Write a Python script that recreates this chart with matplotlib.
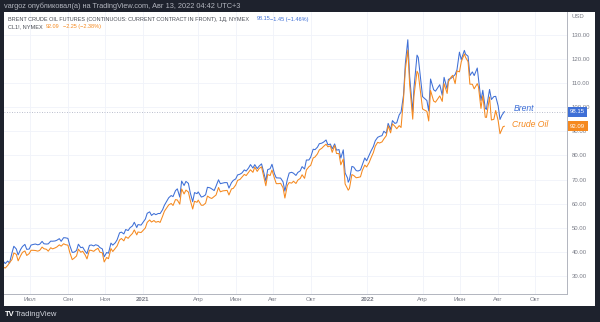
import matplotlib
matplotlib.use("Agg")
import matplotlib.pyplot as plt
import matplotlib.dates as mdates
from matplotlib.patches import Rectangle
import numpy as np

plt.rcParams['font.family'] = ['Liberation Sans', 'DejaVu Sans']

# end-of-week closes (plus a few swing days in 2022)
dates = [
    "2020-05-20", "2020-05-22", "2020-05-29", "2020-06-05", "2020-06-12", "2020-06-19", "2020-06-26",
    "2020-07-03", "2020-07-10", "2020-07-17", "2020-07-24", "2020-07-31",
    "2020-08-07", "2020-08-14", "2020-08-21", "2020-08-28",
    "2020-09-04", "2020-09-11", "2020-09-18", "2020-09-25",
    "2020-10-02", "2020-10-09", "2020-10-16", "2020-10-23", "2020-10-30",
    "2020-11-06", "2020-11-13", "2020-11-20", "2020-11-27",
    "2020-12-04", "2020-12-11", "2020-12-18", "2020-12-24", "2020-12-31",
    "2021-01-08", "2021-01-15", "2021-01-22", "2021-01-29",
    "2021-02-05", "2021-02-12", "2021-02-19", "2021-02-26",
    "2021-03-05", "2021-03-12", "2021-03-19", "2021-03-26",
    "2021-04-01", "2021-04-09", "2021-04-16", "2021-04-23", "2021-04-30",
    "2021-05-07", "2021-05-14", "2021-05-21", "2021-05-28",
    "2021-06-04", "2021-06-11", "2021-06-18", "2021-06-25",
    "2021-07-02", "2021-07-09", "2021-07-16", "2021-07-23", "2021-07-30",
    "2021-08-06", "2021-08-13", "2021-08-20", "2021-08-27",
    "2021-09-03", "2021-09-10", "2021-09-17", "2021-09-24",
    "2021-10-01", "2021-10-08", "2021-10-15", "2021-10-22", "2021-10-29",
    "2021-11-05", "2021-11-12", "2021-11-19", "2021-11-26",
    "2021-12-01", "2021-12-03", "2021-12-10", "2021-12-17", "2021-12-24", "2021-12-31",
    "2022-01-07", "2022-01-14", "2022-01-21", "2022-01-28",
    "2022-02-04", "2022-02-11", "2022-02-18", "2022-02-25",
    "2022-03-04", "2022-03-08", "2022-03-11", "2022-03-16", "2022-03-18", "2022-03-23", "2022-03-25",
    "2022-04-01", "2022-04-08", "2022-04-11", "2022-04-14", "2022-04-22", "2022-04-29",
    "2022-05-06", "2022-05-11", "2022-05-13", "2022-05-20", "2022-05-27", "2022-05-31",
    "2022-06-03", "2022-06-08", "2022-06-10", "2022-06-14", "2022-06-17", "2022-06-24", "2022-06-29",
    "2022-07-01", "2022-07-05", "2022-07-08", "2022-07-14", "2022-07-15", "2022-07-22", "2022-07-29",
    "2022-08-05", "2022-08-10", "2022-08-12",
]

brent = [
    35.75, 35.13, 35.33, 42.30, 38.73, 42.19, 41.02,
    42.80, 43.24, 43.14, 43.34, 43.30,
    44.40, 44.80, 44.35, 45.81,
    42.66, 39.83, 43.15, 41.92,
    39.27, 42.85, 42.93, 41.77, 37.94,
    39.45, 42.78, 44.96, 48.18,
    49.25, 49.97, 52.26, 51.29, 51.80,
    55.99, 55.10, 55.41, 55.88,
    59.34, 62.43, 62.91, 66.13,
    69.36, 69.22, 64.53, 64.57,
    64.86, 62.95, 66.77, 66.11, 67.25,
    68.28, 68.71, 66.44, 69.63,
    71.89, 72.69, 73.51, 76.18,
    76.17, 75.55, 73.59, 74.10, 76.33,
    70.70, 70.59, 65.18, 72.70,
    72.61, 72.92, 75.34, 78.09,
    79.28, 82.39, 84.86, 85.53, 84.38,
    82.74, 82.17, 78.89, 72.72,
    68.87, 69.88, 75.15, 73.52, 76.14, 77.78,
    81.75, 86.06, 87.89, 90.03,
    93.27, 94.44, 93.54, 97.93,
    118.11, 127.98, 112.67, 98.02, 107.93, 121.60, 120.65,
    104.39, 102.78, 98.48, 111.70, 106.65, 109.34,
    112.39, 107.51, 111.55, 112.55, 115.56, 122.84,
    119.72, 123.58, 122.01, 121.17, 113.12, 113.12, 116.26,
    111.63, 102.77, 107.02, 99.10, 101.16, 103.20, 104.50,
    94.92, 97.40, 98.15,
]

wti = [
    33.49, 33.25, 35.49, 39.55, 36.26, 39.75, 38.49,
    40.65, 40.55, 40.59, 41.29, 40.27,
    41.22, 42.01, 42.34, 42.97,
    39.77, 37.33, 41.11, 40.25,
    37.05, 40.60, 40.88, 39.85, 35.79,
    37.14, 40.13, 42.42, 45.53,
    46.26, 46.57, 49.10, 48.23, 48.52,
    52.24, 52.36, 52.27, 52.20,
    56.85, 59.47, 59.24, 61.50,
    66.09, 65.61, 61.42, 60.97,
    61.45, 59.32, 63.13, 62.14, 63.58,
    64.90, 65.37, 63.58, 66.32,
    69.62, 70.91, 71.64, 74.05,
    75.16, 74.56, 71.81, 72.07, 73.95,
    68.28, 68.44, 62.32, 68.74,
    69.29, 69.72, 71.97, 73.98,
    75.88, 79.35, 82.28, 83.76, 83.57,
    81.27, 80.79, 76.10, 68.15,
    65.57, 66.26, 71.67, 70.86, 73.79, 75.21,
    78.90, 83.82, 85.14, 86.82,
    92.31, 93.10, 91.07, 91.59,
    115.68, 123.70, 109.33, 95.04, 104.70, 114.93, 113.90,
    99.27, 98.26, 94.29, 106.95, 102.07, 104.69,
    109.77, 105.71, 110.49, 113.23, 115.07, 114.67,
    118.87, 122.11, 120.67, 118.93, 109.56, 107.62, 109.78,
    108.43, 99.50, 104.79, 95.78, 97.59, 94.70, 98.62,
    89.01, 91.93, 92.09,
]

# mid-week closes
mid_dates = [
    "2020-05-26", "2020-06-02", "2020-06-09", "2020-06-16", "2020-06-23", "2020-06-30",
    "2020-07-07", "2020-07-14", "2020-07-21", "2020-07-28",
    "2020-08-04", "2020-08-11", "2020-08-18", "2020-08-25",
    "2020-09-01", "2020-09-08", "2020-09-15", "2020-09-22", "2020-09-29",
    "2020-10-06", "2020-10-13", "2020-10-20", "2020-10-27",
    "2020-11-03", "2020-11-10", "2020-11-17", "2020-11-24",
    "2020-12-01", "2020-12-08", "2020-12-15", "2020-12-22", "2020-12-29",
    "2021-01-05", "2021-01-12", "2021-01-19", "2021-01-26",
    "2021-02-02", "2021-02-09", "2021-02-16", "2021-02-23",
    "2021-03-02", "2021-03-09", "2021-03-16", "2021-03-23", "2021-03-30",
    "2021-04-06", "2021-04-13", "2021-04-20", "2021-04-27",
    "2021-05-04", "2021-05-11", "2021-05-18", "2021-05-25",
    "2021-06-01", "2021-06-08", "2021-06-15", "2021-06-22", "2021-06-29",
    "2021-07-06", "2021-07-13", "2021-07-20", "2021-07-27",
    "2021-08-03", "2021-08-10", "2021-08-17", "2021-08-24", "2021-08-31",
    "2021-09-07", "2021-09-14", "2021-09-21", "2021-09-28",
    "2021-10-05", "2021-10-12", "2021-10-19", "2021-10-26",
    "2021-11-02", "2021-11-09", "2021-11-16", "2021-11-23", "2021-11-30",
    "2021-12-07", "2021-12-14", "2021-12-21", "2021-12-28",
    "2022-01-04", "2022-01-11", "2022-01-18", "2022-01-25",
    "2022-02-01", "2022-02-08", "2022-02-15", "2022-02-22", "2022-03-01",
    "2022-04-19", "2022-05-03", "2022-05-17", "2022-05-24", "2022-06-21",
    "2022-07-12", "2022-07-19", "2022-07-26", "2022-08-02", "2022-08-08",
]

mid_brent = [
    36.17, 39.57, 41.18, 40.96, 43.08, 41.15,
    43.08, 42.90, 44.32, 43.22,
    44.43, 44.50, 45.46, 45.86,
    45.58, 39.78, 40.53, 41.72, 40.22,
    42.65, 42.45, 42.62, 41.20,
    39.71, 43.61, 43.75, 47.86,
    47.42, 48.84, 50.76, 50.08, 51.09,
    53.60, 56.58, 55.90, 55.91,
    57.46, 61.09, 63.35, 65.37,
    62.70, 67.52, 68.39, 60.79, 64.14,
    62.74, 63.67, 66.57, 65.42,
    69.88, 68.55, 68.71, 68.65,
    70.25, 72.22, 73.99, 74.81, 74.76,
    74.53, 76.49, 69.35, 74.48,
    72.41, 70.63, 69.03, 70.05, 72.99,
    71.69, 73.60, 74.36, 78.09,
    82.56, 83.42, 85.08, 86.40,
    84.72, 84.78, 82.43, 82.31, 70.57,
    75.44, 73.70, 73.98, 78.94,
    80.00, 83.72, 87.51, 88.20,
    89.16, 90.78, 93.28, 96.84, 104.97,
    107.25, 104.97, 111.93, 113.56, 114.65,
    99.49, 107.35, 104.40, 100.54, 96.65,
]

mid_wti = [
    34.35, 36.81, 38.94, 38.38, 40.37, 39.27,
    40.62, 40.29, 41.96, 41.04,
    41.70, 41.61, 42.89, 43.35,
    42.76, 36.76, 38.28, 39.80, 38.72,
    40.67, 40.20, 41.46, 39.57,
    37.66, 41.36, 41.43, 44.91,
    44.55, 45.60, 47.62, 47.02, 48.00,
    49.93, 53.21, 52.98, 52.61,
    54.76, 58.36, 60.05, 61.67,
    59.75, 64.01, 64.80, 57.76, 60.55,
    59.33, 60.18, 62.44, 62.94,
    66.69, 65.28, 65.49, 66.07,
    67.72, 70.05, 72.12, 73.06, 72.98,
    73.37, 75.25, 67.42, 71.65,
    70.56, 68.29, 66.59, 67.54, 68.50,
    68.35, 70.46, 70.49, 75.29,
    78.93, 80.64, 82.96, 84.65,
    83.91, 84.15, 80.76, 78.50, 66.18,
    72.05, 70.73, 71.12, 75.98,
    76.99, 81.22, 85.43, 85.60,
    88.20, 89.36, 92.07, 92.35, 103.41,
    102.56, 102.41, 112.40, 109.77, 109.52,
    95.84, 104.22, 94.98, 94.42, 90.76,
]

tick_dates = ["2020-07-01", "2020-09-01", "2020-11-01", "2021-01-01", "2021-04-01",
              "2021-06-01", "2021-08-01", "2021-10-01", "2022-01-01", "2022-04-01",
              "2022-06-01", "2022-08-01", "2022-10-01"]
tick_labels = ["Июл", "Сен", "Ноя", "2021", "Апр", "Июн", "Авг", "Окт",
               "2022", "Апр", "Июн", "Авг", "Окт"]
price_ticks = [30, 40, 50, 60, 70, 80, 90, 100, 110, 120, 130]

BLUE = "#3e6fd6"
ORANGE = "#f5891f"
BG = "#1e222d"
GRAY = "#787b86"
DARK = "#4a4d56"

W, H = 600, 322


def fx(px):
    return px / W


def fy(py):
    return 1 - py / H


fig = plt.figure(figsize=(6, 3.22), dpi=100, facecolor=BG)
fig.patches.append(Rectangle((fx(4), fy(306)), fx(591), (306 - 12) / H,
                             transform=fig.transFigure, facecolor="white",
                             edgecolor="none", zorder=-10))

ax = fig.add_axes([fx(4), fy(294), fx(563), (294 - 12) / H])
ax.set_facecolor("white")

# merge week-end and mid-week closes into one time-ordered series
x = mdates.datestr2num(dates + mid_dates)
order = np.argsort(x)
x = x[order]
b = np.array(brent + mid_brent)[order]
w = np.array(wti + mid_wti)[order]

ax.plot(x, b, color=BLUE, lw=0.75, zorder=3)
ax.plot(x, w, color=ORANGE, lw=0.75, zorder=4)

ax.set_xlim(mdates.datestr2num("2020-05-20"), mdates.datestr2num("2022-11-22"))
ax.set_ylim(22.5, 139.5)

# grid
for t in mdates.datestr2num(tick_dates):
    ax.axvline(t, color="#f0f3fa", lw=0.6, zorder=0)
for p in price_ticks:
    ax.axhline(p, color="#f0f3fa", lw=0.6, zorder=0)

ax.axhline(b[-1], color="#a3a9bd", lw=0.6, ls=(0, (1, 2)), zorder=2)

for s in ["top", "left"]:
    ax.spines[s].set_visible(False)
for s in ["right", "bottom"]:
    ax.spines[s].set_color("#b2b5be")
    ax.spines[s].set_linewidth(0.7)

ax.set_xticks(mdates.datestr2num(tick_dates))
ax.set_xticklabels(tick_labels)
for lbl in ax.get_xticklabels():
    if lbl.get_text().isdigit():
        lbl.set_fontweight("bold")
        lbl.set_color(DARK)
ax.tick_params(axis="x", length=0, pad=2.5, labelsize=4.4, labelcolor=GRAY)

ax.yaxis.tick_right()
ax.set_yticks(price_ticks)
ax.set_yticklabels([f"{p:.2f}" for p in price_ticks])
ax.tick_params(axis="y", length=0, pad=3.5, labelsize=4.3, labelcolor=GRAY)

# last value tags
for val, col in [(b[-1], BLUE), (w[-1], ORANGE)]:
    ax.annotate(f"{val:.2f}", xy=(1.0, val), xycoords=("axes fraction", "data"),
                xytext=(2.2, 0), textcoords="offset points", va="center", ha="left",
                fontsize=4.3, color="white", zorder=10, annotation_clip=False,
                bbox=dict(boxstyle="square,pad=0.4", fc=col, ec="none"))

ax.annotate("Brent", xy=(x[-1], b[-1]), xytext=(6.5, 2.5), textcoords="offset points",
            color=BLUE, fontsize=6.2, style="italic", va="center")
ax.annotate("Crude Oil", xy=(x[-1], w[-1]), xytext=(5.5, 1), textcoords="offset points",
            color=ORANGE, fontsize=6.2, style="italic", va="center")

fig.text(fx(572), fy(17), "USD", fontsize=4.3, color=GRAY, va="center")

# header and legend
fig.text(fx(4), fy(6), "vargoz опубликовал(а) на TradingView.com, Авг 13, 2022 04:42 UTC+3",
         fontsize=5.3, color="#b2b5be", va="center")
fig.text(fx(8), fy(19), "BRENT CRUDE OIL FUTURES (CONTINUOUS: CURRENT CONTRACT IN FRONT), 1Д, NYMEX",
         fontsize=3.95, color=DARK, va="center")
fig.text(fx(257), fy(19), "98.15", fontsize=3.95, color=BLUE, va="center")
fig.text(fx(270), fy(19), "−1.45 (−1.46%)", fontsize=3.95, color=BLUE, va="center")
fig.text(fx(8), fy(26.5), "CL1!, NYMEX", fontsize=3.95, color=DARK, va="center")
fig.text(fx(46), fy(26.5), "92.09", fontsize=3.95, color=ORANGE, va="center")
fig.text(fx(63), fy(26.5), "−2.25 (−2.38%)", fontsize=3.95, color=ORANGE, va="center")

# footer logo
fig.text(fx(5), fy(314), "TV", fontsize=5.5, color="white", va="center", fontweight="bold")
fig.text(fx(15), fy(314), "TradingView", fontsize=5.5, color="#d1d4dc", va="center")

fig.savefig("out.png", dpi=100, facecolor=BG)
